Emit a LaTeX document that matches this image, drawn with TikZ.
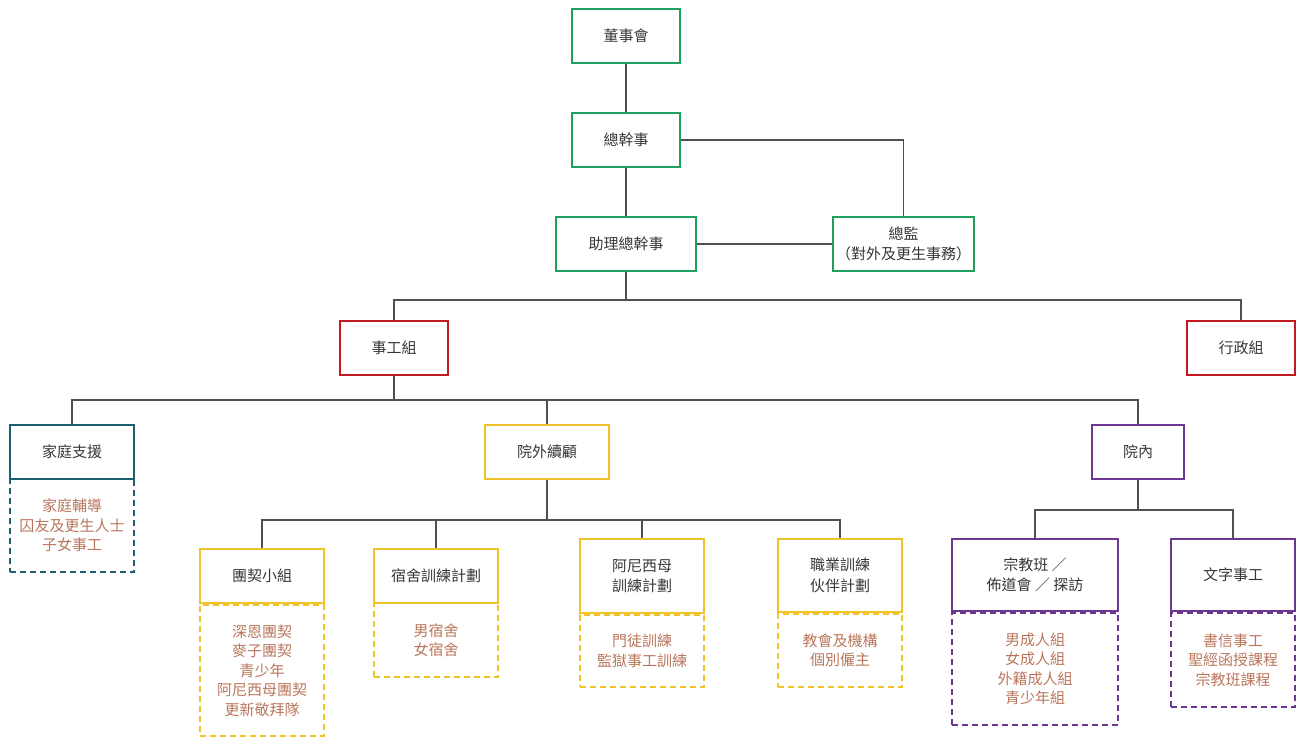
\documentclass[tikz,border=0pt]{standalone}
\usepackage{fontspec}
\setmainfont{Noto Sans CJK TC}
\definecolor{cgreen}{RGB}{32,160,95}
\definecolor{cred}{RGB}{196,24,32}
\definecolor{cteal}{RGB}{30,95,115}
\definecolor{cyellow}{RGB}{240,196,40}
\definecolor{cpurple}{RGB}{108,55,145}
\definecolor{csub}{RGB}{186,118,92}
\definecolor{ctext}{RGB}{55,55,55}
\definecolor{cline}{RGB}{80,80,80}
\begin{document}
\begin{tikzpicture}[x=1pt,y=-1pt,
  box/.style={draw=#1,line width=2pt,fill=white,align=center,text=ctext,
     font=\fontsize{15}{20.5}\selectfont,inner sep=0pt},
  sub/.style={draw=#1,line width=2pt,dash pattern=on 6pt off 4pt,align=center,text=csub,
     font=\fontsize{15}{19.5}\selectfont,inner sep=0pt,anchor=north},
  conn/.style={draw=cline,line width=1.3pt}]
\useasboundingbox (0,0) rectangle (1305,745);
% top level
\node[box=cgreen,minimum width=108pt,minimum height=54pt] (dsh) at (626,36) {董事會};
\node[box=cgreen,minimum width=108pt,minimum height=54pt] (zgs) at (626,140) {總幹事};
\node[box=cgreen,minimum width=140pt,minimum height=54pt] (zl) at (626,244) {助理總幹事};
\node[box=cgreen,minimum width=141pt,minimum height=54pt] (zj) at (903.5,244) {總監\\（對外及更生事務）};
\node[box=cred,minimum width=108pt,minimum height=54pt] (sgz) at (394,348) {事工組};
\node[box=cred,minimum width=108pt,minimum height=54pt] (xzz) at (1241,348) {行政組};
% level 3
\node[box=cteal,minimum width=124pt,minimum height=54pt] (jt) at (72,452) {家庭支援};
\node[box=cyellow,minimum width=124pt,minimum height=54pt] (ywx) at (547,452) {院外續顧};
\node[box=cpurple,minimum width=92pt,minimum height=54pt] (yn) at (1138,452) {院內};
% level 4
\node[box=cyellow,minimum width=124pt,minimum height=54pt] (tq) at (262,576) {團契小組};
\node[box=cyellow,minimum width=124pt,minimum height=54pt] (ss) at (436,576) {宿舍訓練計劃};
\node[box=cyellow,minimum width=124pt,minimum height=74pt] (anx) at (642,576) {阿尼西母\\訓練計劃};
\node[box=cyellow,minimum width=124pt,minimum height=73pt] (zy) at (840,575.5) {職業訓練\\伙伴計劃};
\node[box=cpurple,minimum width=166pt,minimum height=72pt] (zjb) at (1035,575) {宗教班 ／\\佈道會 ／ 探訪};
\node[box=cpurple,minimum width=124pt,minimum height=72pt] (wz) at (1233,575) {文字事工};
% sub boxes
\node[sub=cteal,minimum width=124pt,minimum height=93pt] (jts) at ([yshift=2pt]jt.south) {家庭輔導\\囚友及更生人士\\子女事工};
\node[sub=cyellow,minimum width=124pt,minimum height=131pt] (tqs) at (tq.south) {深恩團契\\麥子團契\\青少年\\阿尼西母團契\\更新敬拜隊};
\node[sub=cyellow,minimum width=124pt,minimum height=74pt] (sss) at ([yshift=2pt]ss.south) {男宿舍\\女宿舍};
\node[sub=cyellow,minimum width=124pt,minimum height=72pt] (anxs) at (anx.south) {門徒訓練\\監獄事工訓練};
\node[sub=cyellow,minimum width=124pt,minimum height=73pt] (zys) at (zy.south) {教會及機構\\個別僱主};
\node[sub=cpurple,minimum width=166pt,minimum height=112pt] (zjbs) at (zjb.south) {男成人組\\女成人組\\外籍成人組\\青少年組};
\node[sub=cpurple,minimum width=124pt,minimum height=94pt] (wzs) at (wz.south) {書信事工\\聖經函授課程\\宗教班課程};
% connectors
\coordinate (b1) at (626,300);
\coordinate (b2) at (394,400);
\coordinate (b3) at (547,520);
\coordinate (b4) at (1138,510);
\draw[conn] (dsh) -- (zgs);
\draw[conn] (zgs) -- (zl);
\draw[conn] (zgs.east) -| (zj.north);
\draw[conn] (zl) -- (zj);
\draw[conn] (zl.south) -- (b1);
\draw[conn] (sgz.north) |- (b1) -| (xzz.north);
\draw[conn] (sgz.south) -- (b2);
\draw[conn] (jt.north) |- (b2) -| (yn.north);
\draw[conn] (ywx.north) |- (b2);
\draw[conn] (ywx.south) -- (b3);
\draw[conn] (tq.north) |- (b3) -| (zy.north);
\draw[conn] (ss.north) |- (b3);
\draw[conn] (anx.north) |- (b3);
\draw[conn] (yn.south) -- (b4);
\draw[conn] (zjb.north) |- (b4) -| (wz.north);
\end{tikzpicture}
\end{document}
